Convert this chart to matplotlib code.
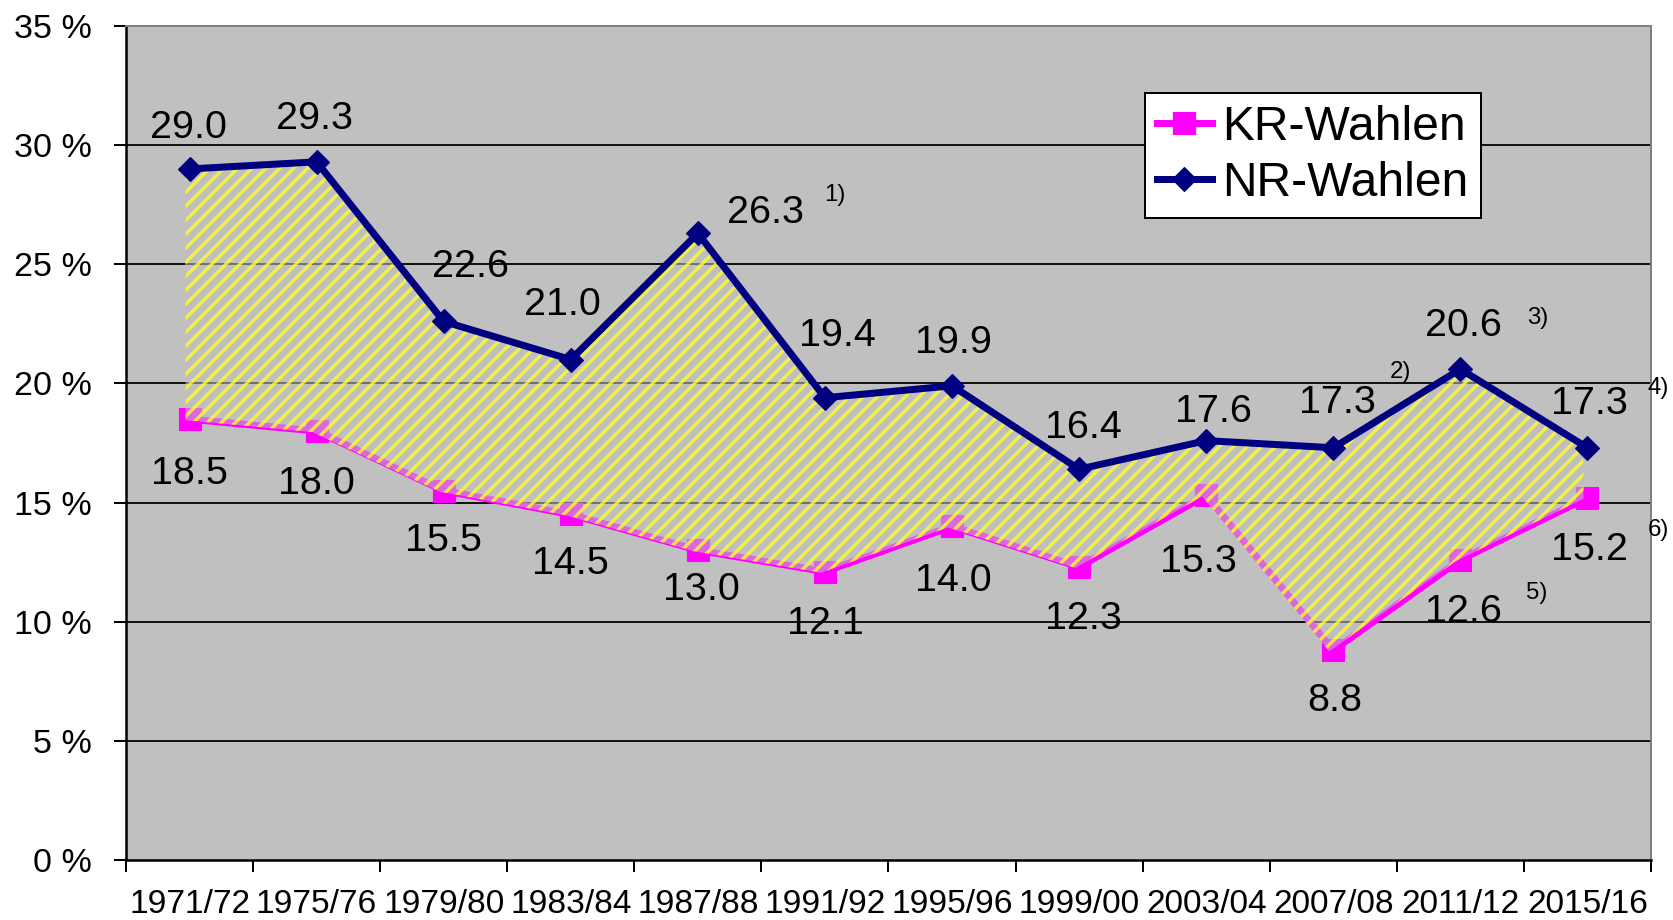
import matplotlib
matplotlib.use("Agg")
import matplotlib.pyplot as plt
import matplotlib.transforms as mtransforms
from matplotlib.ticker import FixedLocator, NullFormatter

DPI = 84
PT = 72.0 / DPI  # points per pixel

plt.rcParams['font.family'] = ['Liberation Sans', 'DejaVu Sans']
plt.rcParams['hatch.linewidth'] = 3.4 * PT

# ---- data ----
periods = ["1971/72", "1975/76", "1979/80", "1983/84", "1987/88", "1991/92",
           "1995/96", "1999/00", "2003/04", "2007/08", "2011/12", "2015/16"]
nr_values = [29.0, 29.3, 22.6, 21.0, 26.3, 19.4, 19.9, 16.4, 17.6, 17.3, 20.6, 17.3]
kr_values = [18.5, 18.0, 15.5, 14.5, 13.0, 12.1, 14.0, 12.3, 15.3, 8.8, 12.6, 15.2]
y_ticks = [0, 5, 10, 15, 20, 25, 30, 35]

# label offsets (pixels) relative to the points
nr_label_off = [(-1, 41), (-2, 43), (27, 54), (-8, 55), (68, 20), (12, 62),
                (1, 43), (4, 41), (7, 29), (4, 45), (3, 43), (2, 44)]
kr_label_off = [(0, -55), (0, -53), (0, -50), (0, -50), (4, -40), (0, -52),
                (1, -55), (4, -52), (-8, -67), (1, -51), (3, -52), (2, -52)]

footnotes = ["1)", "2)", "3)", "4)", "5)", "6)"]
footnote_pos = [(5.08, 27.9), (9.53, 20.48), (10.61, 22.74),
                (11.56, 19.8), (10.60, 11.2), (11.56, 13.85)]

fig = plt.figure(figsize=(1673 / DPI, 920 / DPI), dpi=DPI)
ax = fig.add_axes([126 / 1673, 1 - 860 / 920, (1651 - 126) / 1673, (860 - 26) / 920])
ax.set_facecolor('#C0C0C0')

x = list(range(len(periods)))

# grid
for v in y_ticks[1:]:
    ax.axhline(v, color='black', lw=1.8 * PT, zorder=1)

# KR line (below fill)
kr_line, = ax.plot(x, kr_values, color='#FF00FF', lw=7 * PT, marker='s', ms=23 * PT,
                   mec='#FF00FF', mfc='#FF00FF', mew=1, zorder=2, label='KR-Wahlen')

# hatched fill, slightly offset (shadow-like)
off = mtransforms.offset_copy(ax.transData, fig=fig, x=-4, y=-1, units='dots')
ax.fill_between(x, kr_values, nr_values, facecolor=(0.75, 0.75, 0.75, 0.55),
                edgecolor=(1.0, 1.0, 0.1, 0.8),
                linewidth=0, hatch='//', transform=off, zorder=3)

# NR line (above fill)
nr_line, = ax.plot(x, nr_values, color='#000080', lw=7 * PT, marker='D', ms=17 * PT,
                   mec='#000080', mfc='#000080', mew=1, zorder=4, label='NR-Wahlen')

num_fs = 39.5 * PT
for xi, v, (dx, dy) in zip(x, nr_values, nr_label_off):
    ax.annotate(f"{v:.1f}", (xi, v), xytext=(dx, dy), textcoords='offset pixels',
                ha='center', va='center', fontsize=num_fs, zorder=6)
for xi, v, (dx, dy) in zip(x, kr_values, kr_label_off):
    ax.annotate(f"{v:.1f}", (xi, v), xytext=(dx, dy), textcoords='offset pixels',
                ha='center', va='center', fontsize=num_fs, zorder=6)

for t, (fx, fy) in zip(footnotes, footnote_pos):
    ax.text(fx, fy, t, ha='center', va='center', fontsize=24 * PT, clip_on=False, zorder=6)

ax.set_xlim(-0.5, len(periods) - 0.5)
ax.set_ylim(0, 35)
ax.set_yticks(y_ticks)
ax.set_yticklabels([f"{v} %" for v in y_ticks])
ax.set_xticks(x)
ax.set_xticklabels(periods, family=['Liberation Sans Narrow', 'Liberation Sans'],
                   fontsize=33.5 * PT)
ax.xaxis.set_minor_locator(FixedLocator([i - 0.5 for i in range(len(periods) + 1)]))
ax.xaxis.set_minor_formatter(NullFormatter())
ax.tick_params(axis='x', which='major', length=0, pad=29 * PT)
ax.tick_params(axis='x', which='minor', length=12 * PT, width=2 * PT, direction='out',
               color='black')
ax.tick_params(axis='y', length=12 * PT, width=2 * PT, direction='out',
               labelsize=34 * PT, pad=22 * PT)

for s in ['left', 'bottom']:
    ax.spines[s].set_color('black')
    ax.spines[s].set_linewidth(2.5 * PT)
for s in ['top', 'right']:
    ax.spines[s].set_color('#808080')
    ax.spines[s].set_linewidth(2 * PT)

leg = ax.legend(handles=[kr_line, nr_line], loc='upper left', bbox_to_anchor=(0.668, 0.920),
                fontsize=48 * PT, frameon=True, fancybox=False, edgecolor='black',
                facecolor='white', framealpha=1.0,
                handlelength=1.15, handletextpad=0.22, borderpad=0.25, labelspacing=0.24,
                borderaxespad=0, markerscale=1.0)
leg.get_frame().set_linewidth(2 * PT)
leg.set_zorder(7)

fig.savefig("out.png", dpi=DPI, facecolor='white')
